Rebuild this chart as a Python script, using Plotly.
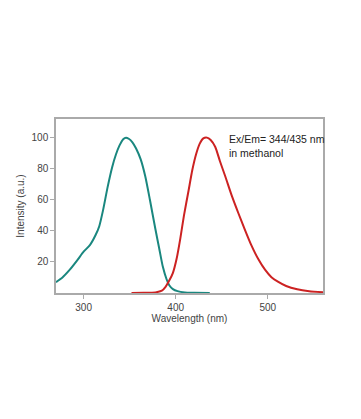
import plotly.graph_objects as go

# Excitation spectrum (teal)
ex_wl = [270, 277, 285, 293, 300, 307, 313, 317, 321, 326, 331, 335, 339, 343, 346, 349, 353, 357, 362, 367, 372, 378, 382, 386, 390, 393, 397, 402, 410, 420, 437]
ex_int = [7, 10, 15, 21, 26.6, 31, 37.3, 43, 53, 68, 81, 89, 95, 99, 100, 99.3, 97, 93, 86, 75, 60, 41, 29, 17, 9, 5, 2.5, 1.2, 0.4, 0.2, 0]

# Emission spectrum (red)
em_wl = [352, 365, 378, 385, 389, 393, 397, 401, 405, 409, 414, 418, 422, 426, 430, 434, 438, 443, 448, 454, 461, 468, 475, 482, 490, 497, 504, 511, 520, 532, 545, 560]
em_int = [0, 0.1, 0.4, 1.5, 4, 8, 13, 22, 35, 50, 66, 79, 89, 96, 99.5, 100, 98.5, 94, 85, 74.8, 62.5, 51.5, 41, 31, 21.5, 15, 10.2, 7.3, 4.5, 2.4, 1.2, 0.5]

x_ticks = [300, 400, 500]
y_ticks = [20, 40, 60, 80, 100]

fig = go.Figure()
fig.add_trace(go.Scatter(x=ex_wl, y=ex_int, mode="lines",
                         line=dict(color="#1a877f", width=2, shape="spline", smoothing=0.6),
                         hoverinfo="skip", showlegend=False))
fig.add_trace(go.Scatter(x=em_wl, y=em_int, mode="lines",
                         line=dict(color="#cc2222", width=2, shape="spline", smoothing=0.6),
                         hoverinfo="skip", showlegend=False))

font_fam = "Liberation Sans, Arial"
axis_common = dict(showgrid=False, zeroline=False, showline=True, linecolor="#aaaaaa",
                   linewidth=1.5, mirror=True, ticks="outside", ticklen=4,
                   tickcolor="#aaaaaa", tickfont=dict(family=font_fam, size=10, color="#444444"))

fig.update_xaxes(range=[270, 560], tickvals=x_ticks,
                 title=dict(text="Wavelength (nm)", standoff=3,
                            font=dict(family=font_fam, size=10, color="#444444")),
                 **axis_common)
fig.update_yaxes(range=[0, 112], tickvals=y_ticks,
                 title=dict(text="Intensity (a.u.)", standoff=5,
                            font=dict(family=font_fam, size=10, color="#444444")),
                 **axis_common)

fig.add_annotation(x=0.64, y=0.93, xref="paper", yref="paper", xanchor="left", yanchor="top",
                   text="Ex/Em= 344/435 nm<br>in methanol", showarrow=False, align="left",
                   font=dict(family=font_fam, size=10.5, color="#222222"))

fig.update_layout(width=353, height=411, paper_bgcolor="white", plot_bgcolor="white",
                  margin=dict(l=45, r=38, t=111, b=126))

fig.write_html("out.html")
